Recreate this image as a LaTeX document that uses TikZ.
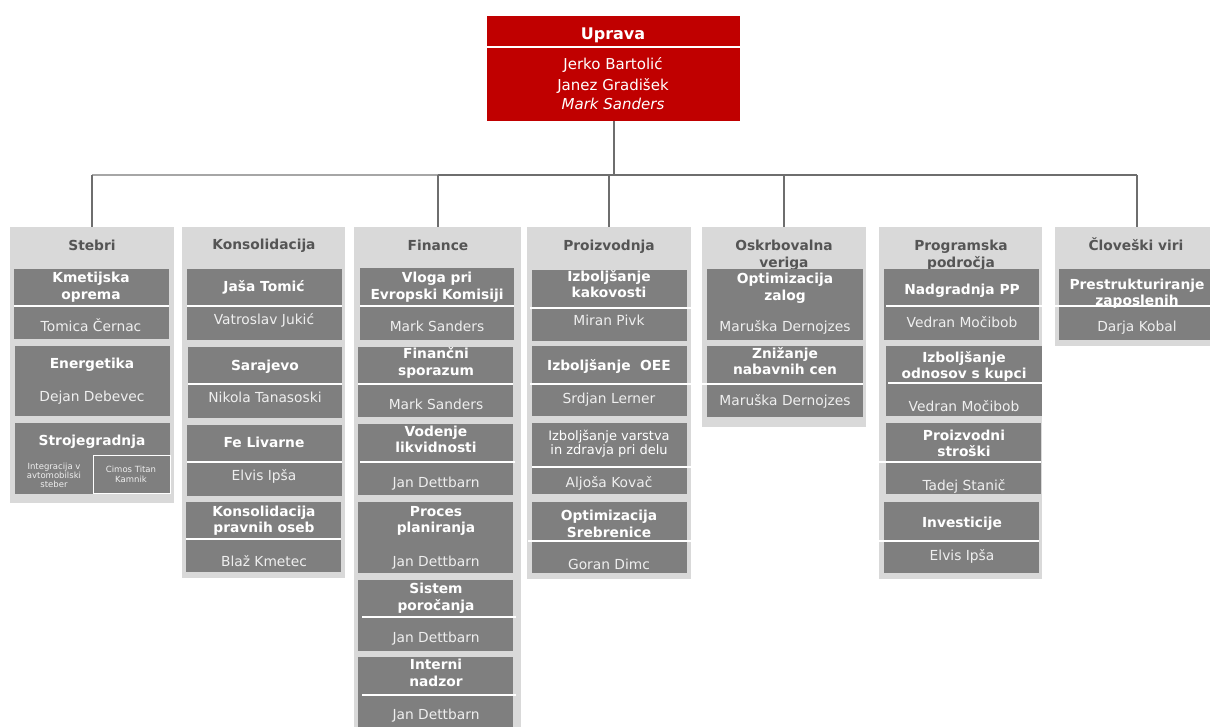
\documentclass[tikz,border=0pt]{standalone}
\usepackage{fontspec}
\setmainfont{DejaVu Sans}
\definecolor{redc}{HTML}{C00000}
\definecolor{bgc}{HTML}{D9D9D9}
\definecolor{boxc}{HTML}{7F7F7F}
\definecolor{hdrc}{HTML}{555555}
\definecolor{nmc}{HTML}{EFEFEF}
\definecolor{linec}{HTML}{6E6E6E}
\definecolor{linel}{HTML}{A6A6A6}
\newcommand\colbox[5]{\node[colbg,minimum width={#4-#2},minimum height={#5-#3}] (#1) at (#2,#3) {};}
\newcommand\darkbox[5]{\node[dbox,minimum width={#4-#2},minimum height={#5-#3}] (#1) at (#2,#3) {};}
\newcommand\divline[3]{\draw[divl] (#1,#3) -- (#2,#3);}
\begin{document}
\begin{tikzpicture}[x=1pt,y=-1pt,
  colbg/.style={fill=bgc,draw=none,inner sep=0pt,outer sep=0pt,anchor=north west},
  dbox/.style={fill=boxc,draw=none,inner sep=0pt,outer sep=0pt,anchor=north west},
  txt/.style={inner sep=0pt,outer sep=0pt,text height=10pt,text depth=0pt,anchor=center},
  hdr/.style={txt,text=hdrc,font=\fontsize{13.8}{16}\selectfont\bfseries},
  ttl/.style={txt,text=white,font=\fontsize{13.8}{16}\selectfont\bfseries},
  nm/.style={txt,text=nmc,font=\fontsize{13.8}{16}\selectfont},
  ttlr/.style={txt,text=white,font=\fontsize{13}{15}\selectfont,text height=9.5pt},
  sm/.style={txt,text=nmc,font=\fontsize{8.5}{10}\selectfont,text height=6.2pt},
  divl/.style={white,line width=1.3pt},
  conn/.style={draw=linec,line width=2pt},
  connl/.style={draw=linel,line width=2pt}]
\useasboundingbox (0,0) rectangle (1210,726);
\fill[white] (0,0) rectangle (1210,726);

% top box
\node[fill=redc,draw=none,inner sep=0pt,outer sep=0pt,anchor=north west,minimum width=253,minimum height=105] (top) at (487,16) {};
\draw[divl] (top.west |- 0,47) -- (top.east |- 0,47);
\node[txt,text=white,font=\fontsize{16}{19}\selectfont\bfseries,text height=11.7pt] (upr) at (613,34) {Uprava};
\node[txt,text=white,font=\fontsize{15}{18}\selectfont,text height=11pt] (u1) at (613,64) {Jerko Bartolić};
\node[txt,text=white,font=\fontsize{15}{18}\selectfont,text height=11pt] (u2) at (613,85) {Janez Gradišek};
\node[txt,text=white,font=\fontsize{15}{18}\selectfont\itshape,text height=11pt] (u3) at (613,104) {Mark Sanders};

% columns
\colbox{c1}{10}{227}{174}{503}
\colbox{c2}{182}{227}{345}{578}
\colbox{c3}{354}{227}{521}{740}
\colbox{c4}{527}{227}{691}{579}
\colbox{c5}{702}{227}{866}{427}
\colbox{c6}{879}{227}{1042}{579}
\colbox{c7}{1055}{227}{1219}{346}

% connectors
\coordinate (hl) at (92,175);
\coordinate (hm) at (437,175);
\coordinate (hr) at (1137,175);
\draw[conn] (top.south) -- (top.south |- hl);
\draw[connl] (c1.north |- hl) -- (c3.north |- hl);
\draw[conn] (c3.north |- hl) -- (c7.north |- hl);
\draw[conn] (c1.north |- hl) -- (c1.north);
\draw[conn] (c3.north |- hl) -- (c3.north);
\draw[conn] (c4.north |- hl) -- (c4.north);
\draw[conn] (c5.north |- hl) -- (c5.north);
\draw[conn] (c7.north |- hl) -- (c7.north);

% headers
\node[hdr] (h1) at (92,245) {Stebri};
\node[hdr] (h2) at (264,244) {Konsolidacija};
\node[hdr] (h3) at (438,245) {Finance};
\node[hdr] (h4) at (609,245) {Proizvodnja};
\node[hdr] (h5a) at (784,245) {Oskrbovalna};
\node[hdr] (h5b) at (784,262) {veriga};
\node[hdr] (h6a) at (961,245) {Programska};
\node[hdr] (h6b) at (961,262) {področja};
\node[hdr] (h7) at (1136,245) {Človeški viri};

% Stebri
\darkbox{b11}{14}{269}{169}{339}
\divline{14}{169}{306}
\node[ttl] (b11a) at (91,277) {Kmetijska};
\node[ttl] (b11b) at (91,294) {oprema};
\node[nm] (b11n) at (91,326) {Tomica Černac};
\darkbox{b12}{15}{346}{170}{416}
\node[ttl] (b12a) at (92,363) {Energetika};
\node[nm] (b12n) at (92,396) {Dejan Debevec};
\darkbox{b13}{15}{423}{170}{494}
\node[ttl] (b13a) at (92,440) {Strojegradnja};
\node[draw=white,line width=0.9pt,inner sep=0pt,outer sep=0pt,anchor=north west,minimum width=77,minimum height=38] (b13s) at (93,455) {};
\node[sm] (b13x) at (54,466) {Integracija v};
\node[sm] (b13y) at (54,475) {avtomobilski};
\node[sm] (b13z) at (54,484) {steber};
\node[sm] (b13p) at (131,469) {Cimos Titan};
\node[sm] (b13q) at (131,479) {Kamnik};

% Konsolidacija
\darkbox{b21}{187}{269}{342}{340}
\divline{187}{342}{306}
\node[ttl] (b21a) at (264,286) {Jaša Tomić};
\node[nm] (b21n) at (264,319) {Vatroslav Jukić};
\darkbox{b22}{188}{347}{342}{418}
\divline{188}{342}{384}
\node[ttl] (b22a) at (265,365) {Sarajevo};
\node[nm] (b22n) at (265,397) {Nikola Tanasoski};
\darkbox{b23}{187}{425}{342}{496}
\divline{187}{342}{462}
\node[ttl] (b23a) at (264,442) {Fe Livarne};
\node[nm] (b23n) at (264,475) {Elvis Ipša};
\darkbox{b24}{186}{502}{341}{572}
\divline{186}{341}{539}
\node[ttl] (b24a) at (264,511) {Konsolidacija};
\node[ttl] (b24b) at (264,527) {pravnih oseb};
\node[nm] (b24n) at (264,561) {Blaž Kmetec};

% Finance
\darkbox{b31}{360}{268}{514}{340}
\divline{360}{514}{306}
\node[ttl] (b31a) at (437,277) {Vloga pri};
\node[ttl] (b31b) at (437,294) {Evropski Komisiji};
\node[nm] (b31n) at (437,326) {Mark Sanders};
\darkbox{b32}{358}{347}{513}{417}
\divline{358}{513}{384}
\node[ttl] (b32a) at (436,353) {Finančni};
\node[ttl] (b32b) at (436,370) {sporazum};
\node[nm] (b32n) at (436,404) {Mark Sanders};
\darkbox{b33}{358}{424}{513}{495}
\divline{360}{515}{462}
\node[ttl] (b33a) at (436,431) {Vodenje};
\node[ttl] (b33b) at (436,447) {likvidnosti};
\node[nm] (b33n) at (436,482) {Jan Dettbarn};
\darkbox{b34}{358}{502}{513}{573}
\node[ttl] (b34a) at (436,511) {Proces};
\node[ttl] (b34b) at (436,527) {planiranja};
\node[nm] (b34n) at (436,561) {Jan Dettbarn};
\darkbox{b35}{358}{580}{513}{651}
\divline{362}{516}{617}
\node[ttl] (b35a) at (436,588) {Sistem};
\node[ttl] (b35b) at (436,605) {poročanja};
\node[nm] (b35n) at (436,637) {Jan Dettbarn};
\darkbox{b36}{358}{657}{513}{740}
\divline{362}{516}{695}
\node[ttl] (b36a) at (436,664) {Interni};
\node[ttl] (b36b) at (436,681) {nadzor};
\node[nm] (b36n) at (436,714) {Jan Dettbarn};

% Proizvodnja
\darkbox{b41}{532}{270}{687}{341}
\divline{530}{691}{308}
\node[ttl] (b41a) at (609,276) {Izboljšanje};
\node[ttl] (b41b) at (609,292) {kakovosti};
\node[nm] (b41n) at (609,320) {Miran Pivk};
\darkbox{b42}{532}{346}{687}{416}
\divline{530}{691}{384}
\node[ttl] (b42a) at (609,365) {Izboljšanje\ \ OEE};
\node[nm] (b42n) at (609,398) {Srdjan Lerner};
\darkbox{b43}{532}{423}{687}{494}
\divline{532}{691}{467}
\node[ttlr] (b43a) at (609,436) {Izboljšanje varstva};
\node[ttlr] (b43b) at (609,450) {in zdravja pri delu};
\node[nm] (b43n) at (609,482) {Aljoša Kovač};
\darkbox{b44}{532}{502}{687}{573}
\divline{528}{691}{541}
\node[ttl] (b44a) at (609,515) {Optimizacija};
\node[ttl] (b44b) at (609,532) {Srebrenice};
\node[nm] (b44n) at (609,564) {Goran Dimc};

% Oskrbovalna veriga
\darkbox{b51}{707}{269}{863}{340}
\node[ttl] (b51a) at (785,278) {Optimizacija};
\node[ttl] (b51b) at (785,295) {zalog};
\node[nm] (b51n) at (785,326) {Maruška Dernojzes};
\darkbox{b52}{707}{346}{863}{417}
\divline{702}{863}{384}
\node[ttl] (b52a) at (785,353) {Znižanje};
\node[ttl] (b52b) at (785,369) {nabavnih cen};
\node[nm] (b52n) at (785,400) {Maruška Dernojzes};

% Programska podrocja
\darkbox{b61}{884}{269}{1039}{340}
\divline{886}{1042}{306}
\node[ttl] (b61a) at (962,289) {Nadgradnja PP};
\node[nm] (b61n) at (962,322) {Vedran Močibob};
\darkbox{b62}{886}{346}{1042}{416}
\divline{888}{1042}{383}
\node[ttl] (b62a) at (964,357) {Izboljšanje};
\node[ttl] (b62b) at (964,373) {odnosov s kupci};
\node[nm] (b62n) at (964,406) {Vedran Močibob};
\darkbox{b63}{886}{423}{1041}{494}
\divline{879}{1041}{462}
\node[ttl] (b63a) at (964,435) {Proizvodni};
\node[ttl] (b63b) at (964,451) {stroški};
\node[nm] (b63n) at (964,485) {Tadej Stanič};
\darkbox{b64}{884}{502}{1039}{573}
\divline{879}{1039}{541}
\node[ttl] (b64a) at (962,522) {Investicije};
\node[nm] (b64n) at (962,555) {Elvis Ipša};

% Cloveski viri
\darkbox{b71}{1059}{269}{1214}{340}
\divline{1055}{1214}{306}
\node[ttl] (b71a) at (1137,284) {Prestrukturiranje};
\node[ttl] (b71b) at (1137,300) {zaposlenih};
\node[nm] (b71n) at (1137,326) {Darja Kobal};
\end{tikzpicture}
\end{document}
